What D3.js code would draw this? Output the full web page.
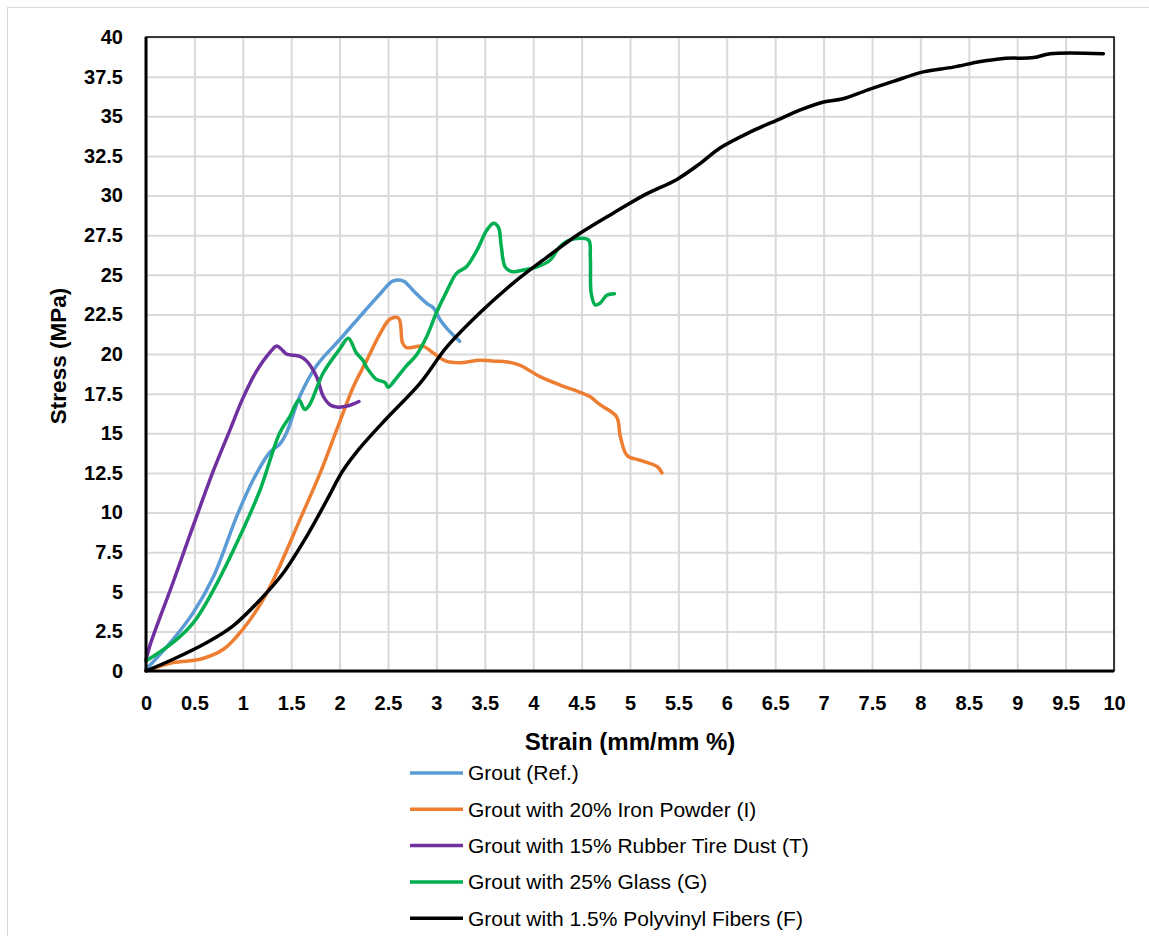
<!DOCTYPE html>
<html>
<head>
<meta charset="utf-8">
<script src="https://cdn.jsdelivr.net/npm/d3@7"></script>
<style>
  body { margin: 0; background: #fff; }
  text { font-family: "Liberation Sans", "DejaVu Sans", sans-serif; }
</style>
</head>
<body>
<div id="chart"></div>
<script>
// Stress-strain curves of grout mixes

var seriesNames = ["Grout (Ref.)", "Grout with 20% Iron Powder (I)", "Grout with 15% Rubber Tire Dust (T)",
    "Grout with 25% Glass (G)", "Grout with 1.5% Polyvinyl Fibers (F)"];
var seriesColors = ["#5b9bd5", "#ed7d31", "#7030a0", "#00b050", "#000000"];

var xTicks = [0, 0.5, 1, 1.5, 2, 2.5, 3, 3.5, 4, 4.5, 5, 5.5, 6, 6.5, 7, 7.5, 8, 8.5, 9, 9.5, 10];
var yTicks = [0, 2.5, 5, 7.5, 10, 12.5, 15, 17.5, 20, 22.5, 25, 27.5, 30, 32.5, 35, 37.5, 40];

// [strain %, stress MPa]
var groutRef = [[0, 0.1], [0.28, 2.0], [0.49, 3.7], [0.7, 6.0], [0.94, 9.8], [1.11, 12.1], [1.28, 13.8], [1.38, 14.3],
    [1.45, 15.0], [1.59, 17.35], [1.76, 19.25], [2.0, 20.9], [2.2, 22.3], [2.42, 23.8], [2.55, 24.6],
    [2.66, 24.6], [2.76, 24.0], [2.9, 23.2], [2.97, 22.9], [3.04, 22.15], [3.11, 21.6], [3.24, 20.8]];

var groutIron = [[0, 0], [0.28, 0.53], [0.56, 0.74], [0.8, 1.37], [1.0, 2.63], [1.21, 4.5], [1.38, 6.6], [1.59, 9.55],
    [1.8, 12.5], [2.0, 15.7], [2.14, 17.9], [2.28, 19.6], [2.42, 21.3], [2.52, 22.2], [2.61, 22.25], [2.65, 20.7],
    [2.69, 20.4], [2.86, 20.5], [2.96, 20.1], [3.1, 19.55], [3.24, 19.45], [3.45, 19.6], [3.6, 19.55], [3.73, 19.5],
    [3.86, 19.3], [4.07, 18.57], [4.28, 18.04], [4.48, 17.6], [4.59, 17.3], [4.69, 16.8], [4.86, 16.05], [4.9, 14.8],
    [4.97, 13.6], [5.1, 13.3], [5.28, 12.9], [5.33, 12.5]];

var groutRubber = [[0, 0.7], [0.04, 1.6], [0.28, 5.6], [0.49, 9.2], [0.7, 12.7], [0.87, 15.25],
    [1.0, 17.2], [1.14, 18.9], [1.28, 20.1], [1.35, 20.5], [1.4, 20.3], [1.45, 20.0], [1.59, 19.85], [1.66, 19.55],
    [1.76, 18.6], [1.83, 17.35], [1.9, 16.8], [1.97, 16.65], [2.1, 16.75], [2.2, 17.0]];

var groutGlass = [[0, 0.63], [0.28, 1.8], [0.49, 3.05], [0.7, 5.15], [0.94, 8.1], [1.18, 11.45], [1.38, 15.0],
    [1.49, 16.1], [1.58, 17.1], [1.64, 16.5], [1.69, 16.8], [1.83, 18.8], [2.0, 20.3], [2.09, 21.0], [2.17, 20.1],
    [2.24, 19.6], [2.28, 19.15], [2.38, 18.4], [2.47, 18.2], [2.5, 17.9], [2.59, 18.5], [2.69, 19.25], [2.79, 19.9],
    [2.9, 21.1], [3.0, 22.6], [3.11, 24.0], [3.21, 25.1], [3.31, 25.5], [3.42, 26.56], [3.52, 27.8], [3.59, 28.25],
    [3.64, 28.0], [3.67, 26.8], [3.71, 25.5], [3.78, 25.2], [3.9, 25.3], [4.04, 25.5], [4.17, 25.9], [4.28, 26.8],
    [4.38, 27.2], [4.57, 27.2], [4.59, 26.1], [4.6, 23.8], [4.64, 23.1], [4.69, 23.2], [4.76, 23.7], [4.84, 23.8]];

var groutFiber = [[0, 0], [0.28, 0.74], [0.63, 1.8], [0.9, 2.85], [1.18, 4.5], [1.42, 6.2], [1.66, 8.5], [1.87, 10.8],
    [2.03, 12.6], [2.2, 14.0], [2.48, 15.9], [2.83, 18.15], [3.11, 20.46], [3.45, 22.6], [3.79, 24.46], [4.14, 26.1],
    [4.48, 27.6], [4.83, 28.9], [5.17, 30.1], [5.48, 31.0], [5.72, 32.0], [5.93, 33.0], [6.24, 34.0], [6.52, 34.76],
    [6.76, 35.4], [7.0, 35.9], [7.2, 36.1], [7.45, 36.65], [7.72, 37.2], [8.03, 37.8], [8.34, 38.1], [8.62, 38.45],
    [8.86, 38.65], [9.17, 38.7], [9.34, 38.95], [9.89, 38.95]];

var allSeries = [groutRef, groutIron, groutRubber, groutGlass, groutFiber];

var margin = { top: 37, right: 35, bottom: 265, left: 146 },
    width = 1149 - margin.left - margin.right,
    height = 936 - margin.top - margin.bottom;

var svg = d3.select("#chart").append("svg")
    .attr("width", 1149)
    .attr("height", 936);

// outer chart border
svg.append("rect")
    .attr("x", 7.5).attr("y", 7.5)
    .attr("width", 1160).attr("height", 950)
    .attr("fill", "none")
    .attr("stroke", "#d9d9d9");

var chartView = svg.append("g")
    .attr("transform", "translate(" + margin.left + "," + margin.top + ")");

var x = d3.scaleLinear().domain([0, 10]).range([0, width]);
var y = d3.scaleLinear().domain([0, 40]).range([height, 0]);

// gridlines
chartView.append("g")
    .attr("transform", "translate(0," + height + ")")
    .call(d3.axisBottom(x).tickValues(xTicks).tickSize(-height).tickFormat(""))
    .call(g => g.select(".domain").remove())
    .call(g => g.selectAll("line").attr("stroke", "#d9d9d9").attr("stroke-width", 2));

chartView.append("g")
    .call(d3.axisLeft(y).tickValues(yTicks).tickSize(-width).tickFormat(""))
    .call(g => g.select(".domain").remove())
    .call(g => g.selectAll("line").attr("stroke", "#d9d9d9").attr("stroke-width", 2));

// tick labels
chartView.append("g")
    .attr("transform", "translate(0," + height + ")")
    .call(d3.axisBottom(x).tickValues(xTicks).tickSize(0).tickPadding(25).tickFormat(d3.format("")))
    .call(g => g.select(".domain").remove())
    .selectAll("text")
    .attr("font-family", "'Liberation Sans', sans-serif")
    .attr("font-size", "20px")
    .attr("font-weight", 700)
    .attr("fill", "#000");

chartView.append("g")
    .call(d3.axisLeft(y).tickValues(yTicks).tickSize(0).tickPadding(23).tickFormat(d3.format("")))
    .call(g => g.select(".domain").remove())
    .selectAll("text")
    .attr("font-family", "'Liberation Sans', sans-serif")
    .attr("font-size", "20px")
    .attr("font-weight", 700)
    .attr("fill", "#000");

// series
var line = d3.line()
    .x(d => x(d[0]))
    .y(d => y(d[1]))
    .curve(d3.curveCatmullRom.alpha(0.5));

chartView.append("g")
    .selectAll("path")
    .data(allSeries)
    .enter()
    .append("path")
    .attr("d", line)
    .attr("fill", "none")
    .attr("stroke", (d, i) => seriesColors[i])
    .attr("stroke-width", 3.5)
    .attr("stroke-linejoin", "round")
    .attr("stroke-linecap", "round");

// plot frame
chartView.append("rect")
    .attr("width", width).attr("height", height)
    .attr("fill", "none")
    .attr("stroke", "#000")
    .attr("stroke-width", 1.5);
chartView.append("line")
    .attr("x1", 0).attr("x2", 0).attr("y1", 0).attr("y2", height)
    .attr("stroke", "#000").attr("stroke-width", 3);
chartView.append("line")
    .attr("x1", 0).attr("x2", width).attr("y1", height).attr("y2", height)
    .attr("stroke", "#000").attr("stroke-width", 3);

// axis titles
chartView.append("text")
    .attr("transform", "rotate(-90)")
    .attr("x", -319)
    .attr("y", -80)
    .attr("text-anchor", "middle")
    .attr("font-size", "22.5px")
    .attr("font-weight", 700)
    .text("Stress (MPa)");

chartView.append("text")
    .attr("x", 484)
    .attr("y", 713)
    .attr("text-anchor", "middle")
    .attr("font-size", "24px")
    .attr("font-weight", 700)
    .text("Strain (mm/mm %)");

// legend
var legend = svg.append("g")
    .selectAll("g")
    .data(seriesNames)
    .enter()
    .append("g")
    .attr("transform", (d, i) => "translate(410," + (773 + i * 36.3) + ")");

legend.append("line")
    .attr("x1", 0).attr("x2", 53)
    .attr("stroke", (d, i) => seriesColors[i])
    .attr("stroke-width", 3.5);

legend.append("text")
    .attr("x", 58)
    .attr("dy", "0.35em")
    .attr("font-size", "21px")
    .text(d => d);
</script>
</body>
</html>
